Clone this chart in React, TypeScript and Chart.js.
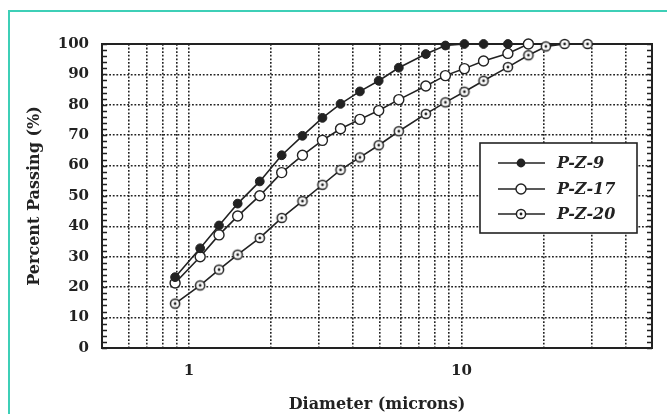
import React, { useEffect, useRef } from 'react';
import { Chart, registerables } from 'chart.js';

Chart.register(...registerables);

// ---- data ----
const diameters = [0.89, 1.1, 1.29, 1.51, 1.82, 2.19, 2.61, 3.09, 3.6, 4.24, 4.97, 5.89, 7.4, 8.73, 10.25, 12.05, 14.8, 17.6, 20.4, 23.9, 29.0];
const seriesLabels = ['P-Z-9', 'P-Z-17', 'P-Z-20'];
const pz9 = [23.3, 32.8, 40.3, 47.5, 54.8, 63.4, 69.8, 75.7, 80.3, 84.4, 87.9, 92.2, 96.7, 99.5, 100, 100, 100];
const pz17 = [21.4, 30.0, 37.2, 43.4, 50.1, 57.7, 63.4, 68.3, 72.1, 75.2, 78.1, 81.7, 86.2, 89.6, 91.9, 94.4, 96.9, 100];
const pz20 = [14.6, 20.6, 25.8, 30.7, 36.2, 42.8, 48.3, 53.7, 58.6, 62.7, 66.7, 71.3, 77.0, 80.8, 84.3, 87.9, 92.4, 96.3, 99.2, 100, 100];
const xGridValues = [0.6, 0.7, 0.8, 0.9, 1, 2, 3, 4, 5, 6, 7, 8, 9, 10, 20, 30, 40];
const xLabelValues = [1, 10];
const yTickValues = [0, 10, 20, 30, 40, 50, 60, 70, 80, 90, 100];

const INK = '#222222';
const FONT = 'DejaVu Serif';

function makeDotCircle(r: number): HTMLCanvasElement {
  const size = 2 * Math.ceil(r + 1.5);
  const c = document.createElement('canvas');
  c.width = size;
  c.height = size;
  const g = c.getContext('2d')!;
  g.beginPath();
  g.arc(size / 2, size / 2, r, 0, Math.PI * 2);
  g.fillStyle = '#fff';
  g.fill();
  g.lineWidth = 1.5;
  g.strokeStyle = INK;
  g.stroke();
  g.beginPath();
  g.arc(size / 2, size / 2, 1.4, 0, Math.PI * 2);
  g.fillStyle = INK;
  g.fill();
  return c;
}

export default function App() {
  const ref = useRef<HTMLCanvasElement | null>(null);

  useEffect(() => {
    const canvas = ref.current;
    if (!canvas) return;
    const dotImg = makeDotCircle(4.6);

    const toPts = (vals: number[]) => vals.map((v, i) => ({ x: diameters[i], y: v }));

    const framePlugin = {
      id: 'frame',
      beforeDatasetsDraw(chart: any) {
        const { ctx, chartArea: ca, scales } = chart;
        const ys = scales.y;
        ctx.save();
        ctx.strokeStyle = INK;
        ctx.lineWidth = 2;
        ctx.setLineDash([]);
        ctx.strokeRect(ca.left, ca.top, ca.right - ca.left, ca.bottom - ca.top);
        ctx.lineWidth = 1.4;
        for (let v = 0; v <= 100; v += 2) {
          const py = Math.round(ys.getPixelForValue(v)) + 0.5;
          ctx.beginPath();
          ctx.moveTo(ca.left, py);
          ctx.lineTo(ca.left + 5, py);
          ctx.moveTo(ca.right, py);
          ctx.lineTo(ca.right - 5, py);
          ctx.stroke();
        }
        ctx.restore();
      },
    };

    const legendPlugin = {
      id: 'boxLegend',
      afterDatasetsDraw(chart: any) {
        const { ctx, chartArea: ca } = chart;
        const bx = ca.right - 172;
        const by = ca.top + 99;
        const bw = 157;
        const bh = 90;
        ctx.save();
        ctx.fillStyle = '#fff';
        ctx.fillRect(bx, by, bw, bh);
        ctx.strokeStyle = INK;
        ctx.lineWidth = 1.6;
        ctx.setLineDash([]);
        ctx.strokeRect(bx, by, bw, bh);
        const rows = [20, 46, 71];
        seriesLabels.forEach((label, i) => {
          const y = by + rows[i];
          ctx.strokeStyle = INK;
          ctx.lineWidth = 1.5;
          ctx.beginPath();
          ctx.moveTo(bx + 18, y);
          ctx.lineTo(bx + 65, y);
          ctx.stroke();
          const mx = bx + 41;
          if (i === 0) {
            ctx.beginPath();
            ctx.arc(mx, y, 4.4, 0, Math.PI * 2);
            ctx.fillStyle = INK;
            ctx.fill();
          } else if (i === 1) {
            ctx.beginPath();
            ctx.arc(mx, y, 5, 0, Math.PI * 2);
            ctx.fillStyle = '#fff';
            ctx.fill();
            ctx.lineWidth = 1.4;
            ctx.stroke();
          } else {
            ctx.drawImage(dotImg, Math.round(mx - dotImg.width / 2), Math.round(y - dotImg.height / 2));
          }
          ctx.fillStyle = INK;
          ctx.font = `italic bold 16px "${FONT}"`;
          ctx.textBaseline = 'middle';
          ctx.textAlign = 'left';
          ctx.fillText(label, bx + 77, y + 1);
        });
        ctx.restore();
      },
    };

    const tickFont = { family: FONT, weight: 'bold' as const, size: 15 };
    const titleFont = { family: FONT, weight: 'bold' as const, size: 16 };

    const chart = new Chart(canvas, {
      type: 'line',
      data: {
        datasets: [
          {
            label: seriesLabels[0],
            data: toPts(pz9),
            borderColor: INK,
            borderWidth: 1.6,
            pointRadius: 4.4,
            pointBackgroundColor: INK,
            pointBorderColor: INK,
            pointBorderWidth: 1,
            clip: false,
          },
          {
            label: seriesLabels[1],
            data: toPts(pz17),
            borderColor: INK,
            borderWidth: 1.6,
            pointRadius: 5,
            pointBackgroundColor: '#fff',
            pointBorderColor: INK,
            pointBorderWidth: 1.4,
            clip: false,
          },
          {
            label: seriesLabels[2],
            data: toPts(pz20),
            borderColor: INK,
            borderWidth: 1.6,
            pointStyle: dotImg as any,
            pointRadius: 5,
            clip: false,
          },
        ],
      },
      options: {
        responsive: false,
        animation: false,
        layout: { padding: { left: 0, top: 44, right: 15, bottom: 0 } },
        plugins: {
          legend: { display: false },
          tooltip: { enabled: false },
        },
        scales: {
          x: {
            type: 'logarithmic',
            min: 0.48,
            max: 50,
            afterBuildTicks: (s: any) => {
              s.ticks = xGridValues.map((v) => ({ value: v }));
            },
            afterFit: (s: any) => {
              s.height = 66;
            },
            ticks: {
              autoSkip: false,
              maxRotation: 0,
              padding: 14,
              color: INK,
              font: tickFont,
              callback: (v: any) => (xLabelValues.includes(Number(v)) ? String(v) : ''),
            },
            grid: { color: INK, lineWidth: 1.6, drawTicks: false },
            border: { display: false, dash: [1.8, 1.8] },
            title: {
              display: true,
              text: 'Diameter (microns)',
              color: INK,
              font: titleFont,
              padding: { top: 0, bottom: 0 },
            },
          },
          y: {
            type: 'linear',
            min: 0,
            max: 100,
            afterBuildTicks: (s: any) => {
              s.ticks = yTickValues.map((v) => ({ value: v }));
            },
            afterFit: (s: any) => {
              s.width = 102;
            },
            ticks: { padding: 13, color: INK, font: tickFont },
            grid: { color: INK, lineWidth: 1.6, drawTicks: false },
            border: { display: false, dash: [1.8, 1.8] },
            title: {
              display: true,
              text: 'Percent Passing (%)',
              color: INK,
              font: titleFont,
              padding: { top: 25, bottom: 0 },
            },
          },
        },
      },
      plugins: [framePlugin, legendPlugin],
    });

    return () => chart.destroy();
  }, []);

  return (
    <div style={{ position: 'fixed', left: 0, top: 0, width: 667, height: 414, background: '#fff', overflow: 'hidden' }}>
      <canvas ref={ref} width={667} height={414} style={{ position: 'absolute', left: 0, top: 0, width: 667, height: 414 }} />
      <div
        style={{
          position: 'absolute',
          left: 8,
          top: 10,
          right: -4,
          bottom: -4,
          borderTop: '2px solid #3dcfb7',
          borderLeft: '2px solid #3dcfb7',
          pointerEvents: 'none',
        }}
      />
    </div>
  );
}
